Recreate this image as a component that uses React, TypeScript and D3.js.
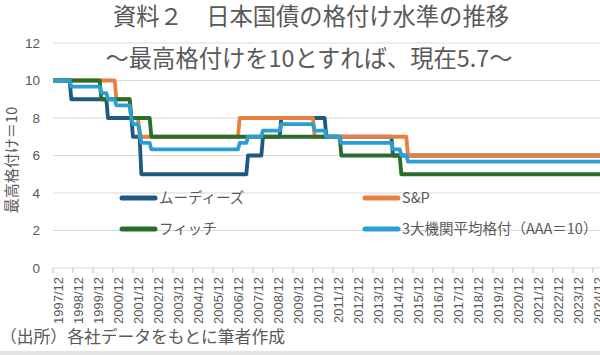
import React from "react";
import * as d3 from "d3";

// ---- data (ratings: AAA = 10, AA+ = 9, AA = 8, AA- = 7, A+ = 6, A = 5) ----
const moodysDates = ["1997/12", "1998/11", "2000/09", "2001/12", "2002/05", "2007/09", "2008/06", "2009/05", "2011/08", "2014/12"];
const moodysValues = [10, 9, 8, 7, 5, 6, 7, 8, 7, 6];

const spDates = ["1997/12", "2001/02", "2001/11", "2002/04", "2007/04", "2011/01", "2015/09"];
const spValues = [10, 9, 8, 7, 8, 7, 6];

const fitchDates = ["1997/12", "2000/05", "2001/11", "2002/11", "2012/05", "2015/05"];
const fitchValues = [10, 9, 8, 7, 6, 5];

const avgDates = ["1997/12", "1998/11", "2000/05", "2000/09", "2001/02", "2001/11", "2001/12", "2002/04", "2002/05", "2002/11", "2007/04", "2007/09", "2008/06", "2009/05", "2011/01", "2011/08", "2012/05", "2014/12", "2015/05", "2015/09"];
const avgValues = [10, 9.67, 9.33, 9, 8.67, 8, 7.67, 7.33, 6.67, 6.33, 6.67, 7, 7.33, 7.67, 7.33, 7, 6.67, 6.33, 6, 5.67];

const lastDate = "2025/06";
const tickLabels = [
  "1997/12", "1998/12", "1999/12", "2000/12", "2001/12", "2002/12", "2003/12", "2004/12", "2005/12", "2006/12",
  "2007/12", "2008/12", "2009/12", "2010/12", "2011/12", "2012/12", "2013/12", "2014/12", "2015/12", "2016/12",
  "2017/12", "2018/12", "2019/12", "2020/12", "2021/12", "2022/12", "2023/12", "2024/12",
];
const yTicks = [0, 2, 4, 6, 8, 10, 12];

const seriesNames = ["ムーディーズ", "S&P", "フィッチ", "3大機関平均格付（AAA＝10）"];
const seriesColors = ["#1d5a80", "#e8803f", "#2b6e2b", "#2c9fd2"];

const toIdx = (s: string) => {
  const [y, m] = s.split("/").map(Number);
  return (y - 1997) * 12 + (m - 12);
};

// monthly step series: value holds until the month before the next change
function stepPoints(dates: string[], values: number[]): [number, number][] {
  const pts: [number, number][] = [];
  const end = toIdx(lastDate);
  dates.forEach((d, i) => {
    const t = toIdx(d);
    pts.push([t, values[i]]);
    const next = i < dates.length - 1 ? toIdx(dates[i + 1]) - 1 : end;
    if (next > t) pts.push([next, values[i]]);
  });
  return pts;
}

const W = 600;
const H = 355;
const GRAY = "#595959";
const JP = "'Noto Sans CJK JP', 'Noto Sans', sans-serif";
const NUM = "'Liberation Sans', Arial, sans-serif";

export default function App() {
  const x = d3.scaleLinear().domain([0, toIdx(lastDate)]).range([53, 53 + (toIdx(lastDate) * 20) / 12]);
  const y = d3.scaleLinear().domain([0, 12]).range([268, 43]);
  const line = d3
    .line<[number, number]>()
    .x((d) => x(d[0]))
    .y((d) => y(d[1]));

  const series = [
    stepPoints(moodysDates, moodysValues),
    stepPoints(spDates, spValues),
    stepPoints(fitchDates, fitchValues),
    stepPoints(avgDates, avgValues),
  ];

  const legend = [
    { i: 0, lx: 122, ly: 198 },
    { i: 1, lx: 365, ly: 198 },
    { i: 2, lx: 122, ly: 229 },
    { i: 3, lx: 365, ly: 229 },
  ];

  return (
    <div style={{ position: "fixed", left: 0, top: 0 }}>
      <svg width={W} height={H} style={{ display: "block", background: "#fff" }}>
        <defs>
          <clipPath id="plot">
            <rect x={40} y={30} width={W - 40} height={250} />
          </clipPath>
        </defs>
        {/* gridlines */}
        {yTicks.map((t) => (
          <line key={t} x1={53} x2={W} y1={y(t)} y2={y(t)} stroke="#d9d9d9" strokeWidth={1} />
        ))}
        {/* x ticks */}
        {tickLabels.map((lab) => (
          <line key={"t" + lab} x1={x(toIdx(lab))} x2={x(toIdx(lab))} y1={268} y2={273} stroke="#bfbfbf" strokeWidth={1} />
        ))}
        {/* y labels */}
        {yTicks.map((t) => (
          <text key={"y" + t} x={40} y={y(t)} dy="0.35em" textAnchor="end" fontSize={13.5} fill={GRAY} fontFamily={NUM}>
            {t}
          </text>
        ))}
        {/* x labels */}
        {tickLabels.map((lab) => (
          <text
            key={"l" + lab}
            transform={`translate(${x(toIdx(lab)) + 5},277) rotate(-90)`}
            dy="0.35em"
            textAnchor="end"
            fontSize={13}
            fill={GRAY}
            fontFamily={NUM}
          >
            {lab}
          </text>
        ))}
        {/* y axis title */}
        <text transform="translate(12,160) rotate(-90)" dy="0.35em" textAnchor="middle" fontSize={15} fill={GRAY} fontFamily={JP}>
          最高格付け＝10
        </text>
        {/* titles */}
        <text x={311} y={16.5} dy="0.35em" textAnchor="middle" fontSize={23.3} fill={GRAY} fontFamily={JP}>
          資料２　日本国債の格付け水準の推移
        </text>
        <text x={309} y={59} dy="0.35em" textAnchor="middle" fontSize={23.3} fill={GRAY} fontFamily={JP}>
          ～最高格付けを10とすれば、現在5.7～
        </text>
        {/* series */}
        <g clipPath="url(#plot)">
          {series.map((pts, i) => (
            <path key={i} d={line(pts) || ""} fill="none" stroke={seriesColors[i]} strokeWidth={3.8} strokeLinejoin="round" />
          ))}
        </g>
        {/* legend */}
        {legend.map((l) => (
          <g key={"lg" + l.i}>
            <line x1={l.lx} x2={l.lx + 33} y1={l.ly} y2={l.ly} stroke={seriesColors[l.i]} strokeWidth={5} strokeLinecap="round" />
            <text x={l.lx + 37} y={l.ly} dy="0.35em" fontSize={14.5} fill={GRAY} fontFamily={JP}>
              {seriesNames[l.i]}
            </text>
          </g>
        ))}
        {/* source */}
        <text x={0} y={337} dy="0.35em" fontSize={16.8} fill={GRAY} fontFamily={JP}>
          （出所）各社データをもとに筆者作成
        </text>
        <rect x={0} y={351} width={W} height={4} fill="#e3e3e3" />
      </svg>
    </div>
  );
}
